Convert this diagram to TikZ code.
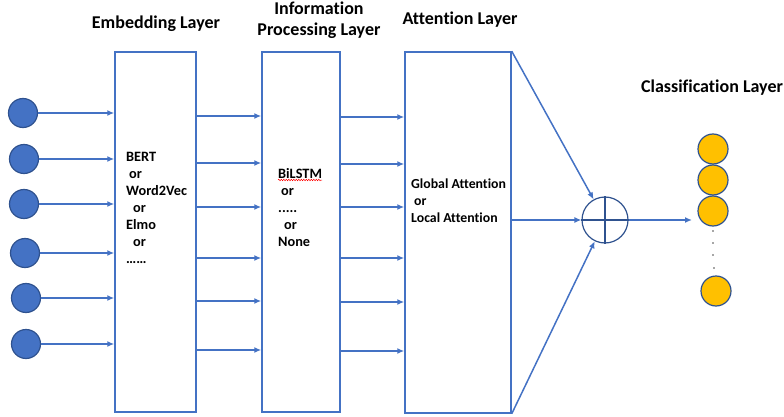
\documentclass[tikz,border=0pt]{standalone}
\usepackage{fontspec}
\setmainfont{Carlito}[Ligatures=NoCommon]
\usetikzlibrary{arrows.meta,decorations.pathmorphing}
\definecolor{lblue}{HTML}{4472C4}
\definecolor{dblue}{HTML}{2F528F}
\definecolor{gold}{HTML}{FFC000}
\begin{document}
\begin{tikzpicture}[x=1pt,y=-1pt,
  conn/.style={lblue,line width=1.5pt,-{Latex[length=7pt,width=6pt]}},
  layer/.style={draw=lblue,line width=1.5pt,fill=white,inner sep=0pt},
  inp/.style={circle,fill=lblue,draw=dblue,line width=1.2pt,minimum size=29pt,inner sep=0pt},
  outn/.style={circle,fill=gold,draw=dblue,line width=1.2pt,minimum size=30pt,inner sep=0pt},
  dotn/.style={circle,fill=black!70,inner sep=0pt,minimum size=1.6pt},
  title/.style={font=\bfseries\fontsize{18}{21}\selectfont,align=center},
  body/.style={font=\bfseries\fontsize{14.3}{17}\selectfont,align=left,anchor=north west,inner sep=0pt}]
\useasboundingbox (0,0) rectangle (784,417);
% layers
\node[layer,minimum width=81pt,minimum height=360pt] (emb) at (155.5,232) {};
\node[layer,minimum width=78pt,minimum height=360pt] (proc) at (301,232) {};
\node[layer,minimum width=106pt,minimum height=361pt] (att) at (458,232.5) {};
% titles
\node[title] (t1) at (156,24) {Embedding Layer};
\node[title] (t2) at (319,20) {Information\\Processing Layer};
\node[title] (t3) at (460,20) {Attention Layer};
\node[title] (t4) at (712,88) {Classification Layer};
% inputs
\foreach \i/\x/\y in {1/23/113,2/24/159,3/24/204,4/25/253,5/26/298,6/26/344}{
  \node[inp] (in\i) at (\x,\y) {};
  \draw[conn] (in\i) -- (in\i -| emb.west);
}
% between layers
\foreach \y [count=\i] in {116,163,207,258,301,350}{
  \coordinate (ra\i) at (0,\y);
  \draw[conn] (emb.east |- ra\i) -- (proc.west |- ra\i);
}
\foreach \y [count=\i] in {117,164,207,258,302,351}{
  \coordinate (rb\i) at (0,\y);
  \draw[conn] (proc.east |- rb\i) -- (att.west |- rb\i);
}
% layer texts
\node[body] (txe) at (126,152) {BERT\\\hspace{3pt}or\\Word2Vec\\\hspace{7pt}or\\Elmo\\\hspace{7pt}or\\……};
\node[body] (txp) at (278,168) {BiLSTM\\\hspace{3pt}or\\.....\\\hspace{6pt}or\\None};
\node[body,font=\bfseries\fontsize{13.8}{17}\selectfont] (txa) at (411,179) {Global Attention\\\hspace{3pt}or\\Local Attention};
\coordinate (w1) at (278,180);
\coordinate (w2) at (322,180);
\draw[red,line width=0.5pt,decorate,decoration={snake,amplitude=0.7pt,segment length=2.5pt}] (w1) -- (w2);
% sum
\node[circle,draw=dblue,line width=1.2pt,minimum size=46pt,inner sep=0pt,fill=white] (sum) at (605,220) {};
\draw[dblue,line width=1.2pt] (sum.north) -- (sum.south) (sum.west) -- (sum.east);
\draw[conn] (att.north east) -- (sum);
\draw[conn] (att.east |- sum) -- (sum.west);
\draw[conn] (att.south east) -- (sum);
\coordinate (outend) at (692,220);
\draw[conn] (sum.east) -- (outend);
% outputs
\node[outn] (o1) at (713,149) {};
\node[outn] (o2) at (713,180) {};
\node[outn] (o3) at (713,211) {};
\node[outn] (o4) at (716,291) {};
\node[dotn] (d1) at (713,231) {};
\node[dotn] (d2) at (713,243) {};
\node[dotn] (d3) at (713,255) {};
\node[dotn] (d4) at (714,268) {};
\end{tikzpicture}
\end{document}
